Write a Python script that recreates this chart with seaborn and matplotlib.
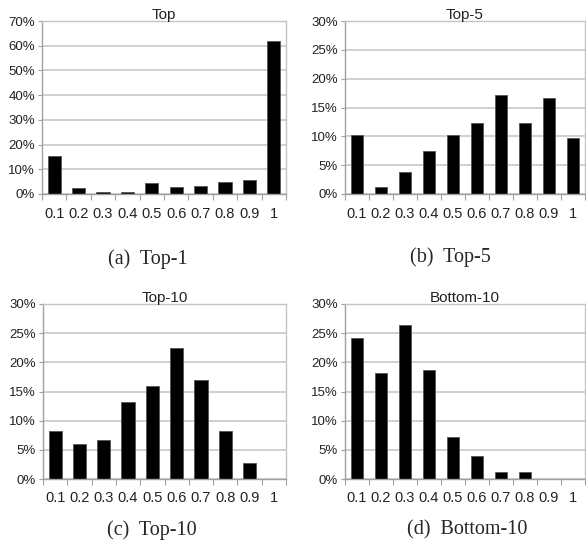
import seaborn as sns
import numpy as np
import pandas as pd
import matplotlib
matplotlib.use('Agg')
import matplotlib.pyplot as plt
from matplotlib.ticker import PercentFormatter, FixedLocator

# bins shared by all four panels
bins = ['0.1', '0.2', '0.3', '0.4', '0.5', '0.6', '0.7', '0.8', '0.9', '1']

# share of items per bin (percent)
top1 = [15.4, 2.3, 0.8, 0.8, 4.4, 2.8, 3.4, 4.8, 5.5, 61.8]
top5 = [10.2, 1.15, 3.8, 7.5, 10.2, 12.3, 17.1, 12.3, 16.6, 9.7]
top10 = [8.2, 6.05, 6.7, 13.2, 15.9, 22.5, 17.0, 8.2, 2.8, 0.0]
bottom10 = [24.1, 18.1, 26.4, 18.65, 7.2, 3.9, 1.15, 1.15, 0.0, 0.0]

titles = ['Top', 'Top-5', 'Top-10', 'Bottom-10']
captions = ['(a)  Top-1', '(b)  Top-5', '(c)  Top-10', '(d)  Bottom-10']
ymax = [70, 30, 30, 30]
ystep = [10, 5, 5, 5]

sns.set_style('white')
plt.rcParams['font.family'] = ['Liberation Sans', 'DejaVu Sans']

W, H = 586, 552
fig = plt.figure(figsize=(W / 100, H / 100), dpi=100)

# axes boxes in pixels: left, right, top, bottom
boxes = [(42, 286, 21, 194), (345, 585, 21, 194),
         (43, 286, 304, 479), (345, 585, 304, 479)]
cap_pos = [(148, 259), (450, 257), (152, 530), (467, 530)]

grid_c = '#c4c4c4'
for i, vals in enumerate([top1, top5, top10, bottom10]):
    l, r, t, b = boxes[i]
    ax = fig.add_axes([l / W, 1 - b / H, (r - l) / W, (b - t) / H])
    df = pd.DataFrame({'bin': bins, 'share': vals})
    sns.barplot(data=df, x='bin', y='share', color='black', edgecolor='#555555',
                linewidth=0.6, width=0.54, saturation=1, ax=ax)
    ax.set_xlim(-0.5, 9.5)
    ax.set_ylim(0, ymax[i])
    ax.set_yticks(np.arange(0, ymax[i] + 1, ystep[i]))
    ax.yaxis.set_major_formatter(PercentFormatter(100, decimals=0))
    ax.yaxis.grid(True, color=grid_c, linewidth=1.1)
    ax.set_axisbelow(True)
    ax.set_xlabel('')
    ax.set_ylabel('')
    for s in ax.spines.values():
        s.set_color(grid_c)
        s.set_linewidth(1.0)
    ax.spines['left'].set_color('#a0a0a0')
    ax.spines['bottom'].set_color('#a0a0a0')
    ax.xaxis.set_minor_locator(FixedLocator(np.arange(-0.5, 10, 1)))
    ax.tick_params(axis='x', which='major', length=0, pad=9, labelsize=10.5,
                   colors='#222222')
    ax.tick_params(axis='x', which='minor', length=4, width=0.8, color='#a0a0a0',
                   direction='out', bottom=True)
    ax.tick_params(axis='y', length=3, width=0.8, color='#a0a0a0', pad=2,
                   labelsize=9.5, labelcolor='#222222', left=True)
    ax.set_title(titles[i], fontsize=11, pad=1.5, color='#222222')
    cx, cy = cap_pos[i]
    fig.text(cx / W, 1 - cy / H, captions[i], ha='center', va='center',
             fontsize=14.5, family=['Liberation Serif', 'DejaVu Serif'])

fig.savefig('out.png', dpi=100)
